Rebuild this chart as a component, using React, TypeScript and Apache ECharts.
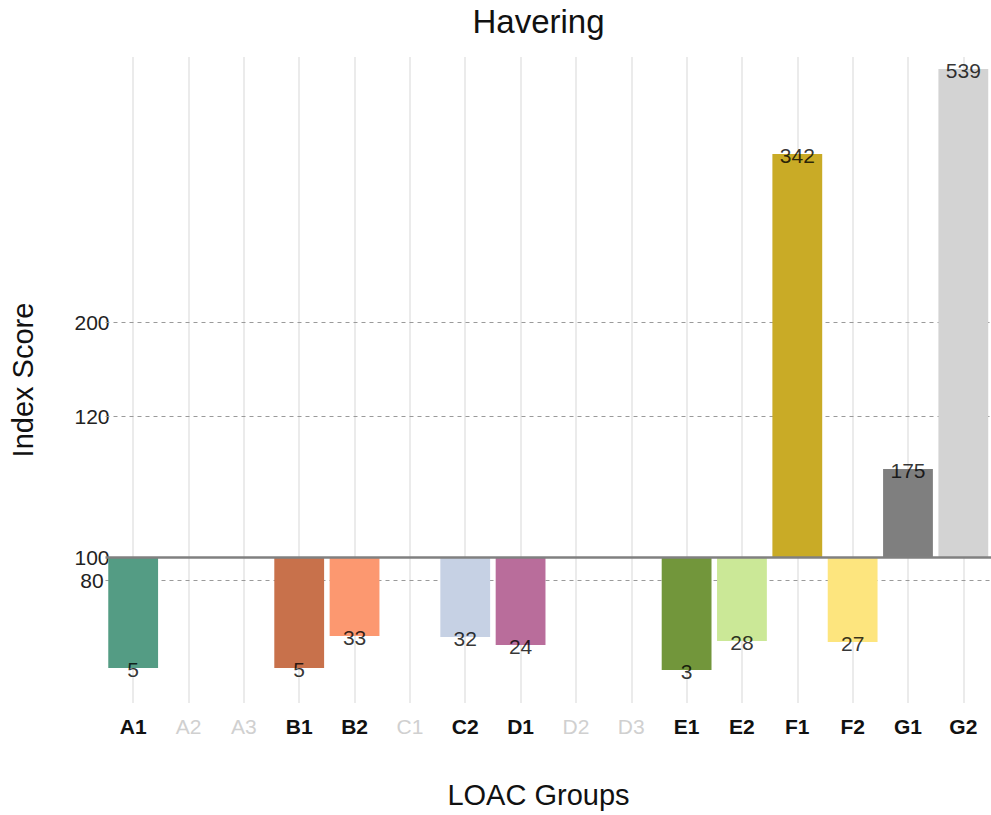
import React, { useEffect, useRef } from "react";
import * as echarts from "echarts";

// LOAC group categories
const categories = ["A1", "A2", "A3", "B1", "B2", "C1", "C2", "D1", "D2", "D3", "E1", "E2", "F1", "F2", "G1", "G2"];
// Index scores shown as labels (null = no bar)
const indexScores: (number | null)[] = [5, null, null, 5, 33, null, 32, 24, null, null, 3, 28, 342, 27, 175, 539];
// Bar ends on the chart's display scale (0 = the 100 baseline)
const barPositions: (number | null)[] = [-111, null, null, -111, -79, null, -80, -88, null, null, -113, -84, 403, -85, 88, 488];
const barColors = ["#549c84", "", "", "#c8714b", "#fc9870", "", "#c6d1e4", "#b96d9b", "", "", "#72963b", "#cbe897", "#c9ab26", "#fde57e", "#7f7f7f", "#d3d3d3"];
// Reference lines: label and position on the display scale
const refLabels = ["80", "100", "120", "200"];
const refPositions = [-23, 0, 141, 235];

const FONT = "'Liberation Sans', Arial, Helvetica, sans-serif";

export default function App() {
  const ref = useRef<HTMLDivElement>(null);
  useEffect(() => {
    if (!ref.current) return;
    const chart = echarts.init(ref.current, undefined, { renderer: "svg" });
    const option: any = {
      animation: false,
      textStyle: { fontFamily: FONT },
      grid: { left: 105.5, right: -3.3, top: 57, bottom: 112, containLabel: false },
      xAxis: {
        type: "category",
        data: categories.map((c, i) => ({
          value: c,
          textStyle: indexScores[i] == null
            ? { color: "#d0d0d0", fontWeight: "normal" }
            : { color: "#111111", fontWeight: "bold" },
        })),
        axisLine: { show: false },
        axisTick: { show: false },
        splitLine: { show: false },
        axisLabel: { interval: 0, fontSize: 21, margin: 13, fontFamily: FONT },
      },
      yAxis: {
        type: "value",
        min: -146,
        max: 500,
        axisLine: { show: false },
        axisTick: { show: false },
        splitLine: { show: false },
        axisLabel: {
          customValues: refPositions,
          fontSize: 21,
          color: "#222222",
          align: "center",
          margin: 13.5,
          fontFamily: FONT,
          formatter: (v: number) => {
            const k = refPositions.indexOf(v);
            return k >= 0 ? refLabels[k] : "";
          },
        },
      },
      series: [
        {
          type: "line",
          z: 1,
          data: categories.map(() => "-"),
          silent: true,
          markLine: {
            z: 1,
            silent: true,
            symbol: "none",
            label: { show: false },
            animation: false,
            data: [
              ...categories.map((c) => ({ xAxis: c, lineStyle: { color: "#ebebeb", width: 2, type: "solid" } })),
              ...refPositions.filter((p) => p !== 0).map((p) => ({ yAxis: p, lineStyle: { color: "#9a9a9a", width: 1, type: [4, 4] } })),
            ],
          },
        },
        {
          type: "bar",
          z: 2,
          barCategoryGap: "10%",
          data: barPositions.map((v, i) => (v == null ? "-" : { value: v, itemStyle: { color: barColors[i] } })),
        },
        {
          type: "line",
          z: 3,
          data: categories.map(() => "-"),
          silent: true,
          markLine: {
            z: 3,
            silent: true,
            symbol: "none",
            label: { show: false },
            animation: false,
            data: [{ yAxis: 0, lineStyle: { color: "#808080", width: 2.5, type: "solid" } }],
          },
        },
        {
          type: "scatter",
          z: 4,
          symbolSize: 2,
          itemStyle: { color: "rgba(0,0,0,0)" },
          data: barPositions.map((v) => (v == null ? "-" : v)),
          label: {
            show: true,
            position: "inside",
            fontSize: 21,
            color: "#000000",
            textBorderWidth: 0,
            fontFamily: FONT,
            offset: [0, 1],
            formatter: (p: any) => String(indexScores[p.dataIndex]),
          },
        },
      ],
      graphic: [
        {
          type: "text",
          x: 538.5,
          y: 21.5,
          style: { text: "Havering", fontSize: 33, fill: "#111111", align: "center", verticalAlign: "middle", fontFamily: FONT },
        },
        {
          type: "text",
          x: 538.5,
          y: 795,
          style: { text: "LOAC Groups", fontSize: 29, fill: "#111111", align: "center", verticalAlign: "middle", fontFamily: FONT },
        },
        {
          type: "text",
          x: 23,
          y: 380,
          rotation: Math.PI / 2,
          style: { text: "Index Score", fontSize: 29, fill: "#111111", align: "center", verticalAlign: "middle", fontFamily: FONT },
        },
      ],
    };
    chart.setOption(option);
    return () => chart.dispose();
  }, []);
  return <div ref={ref} style={{ position: "absolute", left: 0, top: 0, width: 991, height: 815 }} />;
}
